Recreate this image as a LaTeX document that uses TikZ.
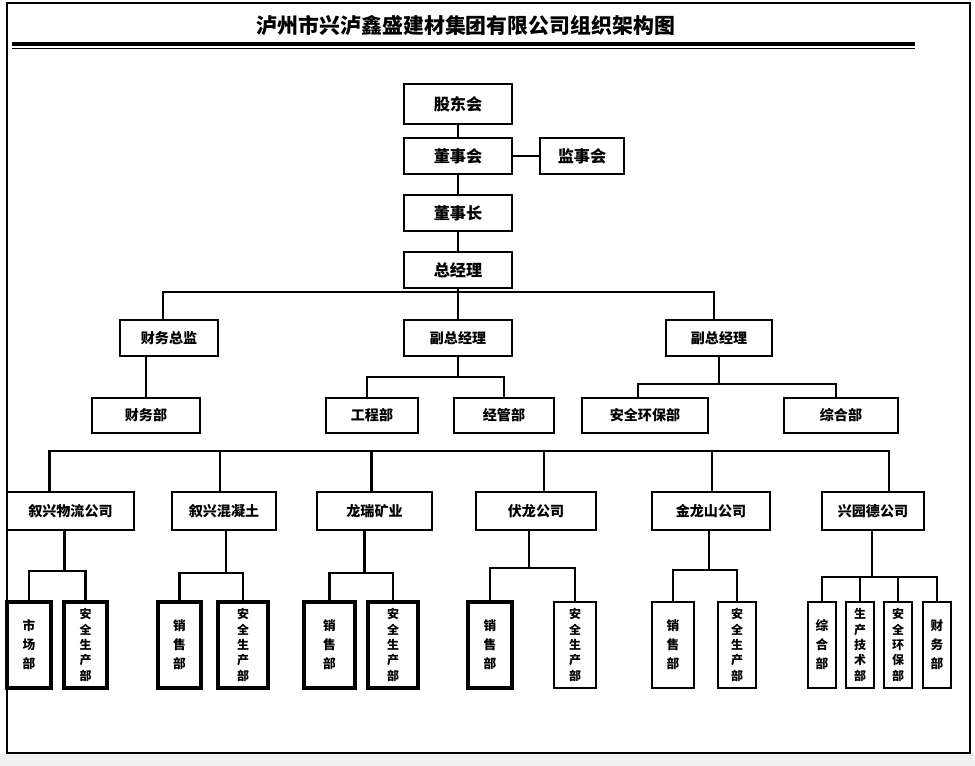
\documentclass[tikz,border=0pt]{standalone}
\usepackage{fontspec}
\setmainfont{Noto Sans CJK SC}
\usetikzlibrary{calc}

\begin{document}
\begin{tikzpicture}[
    x=0.02cm, y=-0.02cm,
    font=\bfseries,
    link/.style={
      draw=black,
      line width=1.4pt,
    },
    unit/.style={
      draw=black,
      line width=1.4pt,
      minimum width=#1,
      minimum height=0.72cm,
      inner sep=0pt,
      font=\bfseries\fontsize{8}{9}\selectfont,
    },
    unit/.default=2.16cm,
    topunit/.style={
      unit=#1,
      font=\bfseries\fontsize{9.2}{10}\selectfont,
    },
    topunit/.default=2.16cm,
    vert/.style={
      draw=black,
      line width=1.4pt,
      minimum width=#1,
      minimum height=1.72cm,
      inner sep=0pt,
      align=center,
      font=\bfseries\fontsize{7.2}{10.8}\selectfont,
    },
    heavy/.style={line width=1.9pt},
    tight/.style={font=\bfseries\fontsize{6.8}{8.7}\selectfont},
  ]
  \useasboundingbox (0,0) rectangle (975,766);

  % Frame and title
  \fill[gray!12] (0,754) rectangle (975,766);
  \draw[line width=1.2pt] (7,3) rectangle (970,753);
  \node[font=\bfseries\fontsize{11.9}{13}\selectfont] (title) at (466,25) {泸州市兴泸鑫盛建材集团有限公司组织架构图};
  \draw[line width=1.8pt] (12,44) -- (915,44);
  \draw[line width=0.6pt] (12,48.5) -- (915,48.5);

  % Board levels
  \node[topunit, minimum height=0.8cm] (gdh) at (458,104) {股东会};
  \node[topunit] (dsh) at (458,156) {董事会};
  \node[topunit=1.68cm] (jsh) at (582,156) {监事会};
  \node[topunit] (dsz) at (458,213) {董事长};
  \node[topunit] (zjl) at (458,270) {总经理};

  \draw[link] (gdh) -- (dsh);
  \draw[link] (dsh) -- (jsh);
  \draw[link] (dsh) -- (dsz);
  \draw[link] (dsz) -- (zjl);

  % Management level
  \node[unit=1.96cm] (cwzj) at (169,338) {财务总监};
  \node[unit] (fz1) at (458,338) {副总经理};
  \node[unit=2.12cm] (fz2) at (719,338) {副总经理};

  \coordinate (bus1) at (458,292);
  \draw[link] ($(cwzj.north)+(-6,0)$) |- (bus1) -| ($(fz2.north)+(-5,0)$);
  \draw[link] (zjl) -- (fz1);

  % Departments
  \node[unit, minimum height=0.7cm] (cwb) at (146,415.5) {财务部};
  \node[unit=1.84cm, minimum height=0.7cm] (gcb) at (372,415.5) {工程部};
  \node[unit=2.0cm, minimum height=0.7cm] (jgb) at (504,415.5) {经管部};
  \node[unit=2.52cm, minimum height=0.7cm] (ahb) at (645,415.5) {安全环保部};
  \node[unit=2.28cm, minimum height=0.7cm] (zhb) at (841,415.5) {综合部};

  \draw[link] (cwb.north) -- (cwb.north |- cwzj.south);
  \coordinate (bus2) at (458,377);
  \draw[link] (fz1.south) -- (bus2);
  \draw[link] ($(gcb.north)+(-5,0)$) |- (bus2) -| (jgb.north);
  \coordinate (bus3) at (719,384);
  \draw[link] (fz2.south) -- (bus3);
  \draw[link] ($(ahb.north)+(-7,0)$) |- (bus3) -| ($(zhb.north)+(-5,0)$);

  % Subsidiaries
  \node[unit=2.54cm, minimum height=0.76cm] (xl) at (70.5,511) {叙兴物流公司};
  \node[unit=2.08cm, minimum height=0.76cm] (hn) at (224,511) {叙兴混凝土};
  \node[unit=2.3cm, minimum height=0.76cm] (lr) at (374.5,511) {龙瑞矿业};
  \node[unit=2.4cm, minimum height=0.76cm] (fl) at (536,511) {伏龙公司};
  \node[unit=2.36cm, minimum height=0.76cm] (jl) at (711,511) {金龙山公司};
  \node[unit=2.04cm, minimum height=0.76cm] (yd) at (873,511) {兴园德公司};

  \coordinate (bus4) at (470,451);
  \draw[link] ($(xl.north)+(-21,0)$) |- (bus4) -| ($(yd.north)+(16,0)$);
  \foreach \co/\dx in {hn/-4, lr/-3, fl/8, jl/1} {
    \draw[link] ($(\co.north)+(\dx,0)$) |- (bus4);
  }

  % Subsidiary departments
  \node[vert=0.88cm, heavy] (xl1) at (29,645) {市\\场\\部};
  \node[vert=0.86cm, heavy, tight] (xl2) at (85.5,645) {安\\全\\生\\产\\部};
  \node[vert=0.86cm, heavy] (hn1) at (179.5,645) {销\\售\\部};
  \node[vert=1.0cm, heavy, tight] (hn2) at (243,645) {安\\全\\生\\产\\部};
  \node[vert=1.02cm, heavy] (lr1) at (329.5,645) {销\\售\\部};
  \node[vert=1.0cm, heavy, tight] (lr2) at (393,645) {安\\全\\生\\产\\部};
  \node[vert=0.88cm, heavy] (fl1) at (490,645) {销\\售\\部};
  \node[vert=0.84cm, tight] (fl2) at (575,645) {安\\全\\生\\产\\部};
  \node[vert=0.84cm] (jl1) at (673,645) {销\\售\\部};
  \node[vert=0.76cm, tight] (jl2) at (737,645) {安\\全\\生\\产\\部};
  \node[vert=0.56cm] (yd1) at (822,645) {综\\合\\部};
  \node[vert=0.56cm, tight] (yd2) at (860,645) {生\\产\\技\\术\\部};
  \node[vert=0.56cm, tight] (yd3) at (898,645) {安\\全\\环\\保\\部};
  \node[vert=0.56cm] (yd4) at (937,645) {财\\务\\部};

  \foreach \co/\dx/\dy/\a/\b in {xl/-6/40/xl1/xl2, hn/2/42/hn1/hn2, lr/-10/42/lr1/lr2,
                                 fl/-7/37/fl1/fl2, jl/-2/39/jl1/jl2, yd/-1/46/yd1/yd4} {
    \coordinate (\co-b) at ($(\co.south)+(\dx,\dy)$);
    \draw[link] ($(\co.south)+(\dx,0)$) -- (\co-b);
    \draw[link] (\a.north) |- (\co-b) -| (\b.north);
  }
  \draw[link] (yd2.north) |- (yd-b);
  \draw[link] (yd3.north) |- (yd-b);

\end{tikzpicture}
\end{document}
